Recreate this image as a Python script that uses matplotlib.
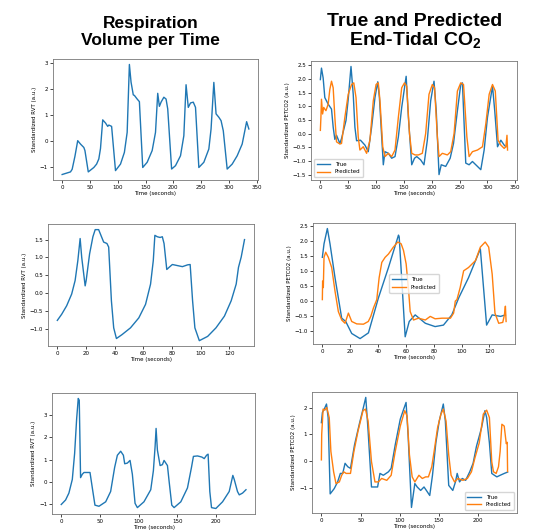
import matplotlib
matplotlib.use('Agg')
import matplotlib.pyplot as plt

plt.rcParams['mathtext.fontset'] = 'custom'
plt.rcParams['mathtext.rm'] = 'Liberation Sans:bold'
plt.rcParams['mathtext.bf'] = 'Liberation Sans:bold'

# respiration volume per time, 3 subjects
rvt1_t = [0, 15, 18, 23, 28, 33, 39, 41, 47, 57, 62, 66, 69, 73, 78, 82, 84, 89, 96, 105, 112, 117, 121, 124, 128, 130,
          135, 139, 145, 153, 162, 168, 172, 175, 178, 183, 187, 190, 197, 204, 213, 219, 223, 227, 231, 236, 240, 246,
          255, 264, 268, 273, 277, 282, 286, 290, 297, 306, 315, 324, 332, 336]
rvt1_v = [-1.3, -1.2, -1.1, -0.6, 0.0, -0.13, -0.26, -0.38, -1.2, -1.03, -0.9, -0.7, -0.3, 0.8, 0.68, 0.55, 0.6, 0.55,
          -1.15, -0.9, -0.45, 0.32, 2.93, 2.25, 1.76, 1.74, 1.6, 1.5, -1.03, -0.83, -0.38, 0.32, 1.82, 1.32, 1.48, 1.67,
          1.6, 1.22, -1.09, -0.96, -0.58, 0.19, 2.15, 1.28, 1.45, 1.48, 1.28, -1.03, -0.83, -0.32, 0.45, 2.24, 1.03,
          0.9, 0.77, 0.38, -1.09, -0.9, -0.58, -0.13, 0.73, 0.45]

rvt2_t = [0, 3, 6.5, 10, 12.4, 14.3, 15.9, 17, 19.4, 20.1, 22.5, 24.8, 26.4, 28.8, 30.4, 32.3, 34.6, 35.8, 37.7, 39.3,
          41.2, 45.1, 51, 56.8, 61.5, 65, 66.9, 68, 69.7, 71.6, 73.2, 74.4, 76.3, 77.9, 80.2, 83.7, 87.2, 90.8, 92.6,
          94.3, 95.9, 99, 104.8, 110.6, 116.5, 121.2, 124.7, 126.3, 128.2, 130.5]
rvt2_v = [-0.77, -0.6, -0.36, -0.03, 0.35, 0.91, 1.53, 1.0, 0.2, 0.35, 1.1, 1.58, 1.78, 1.78, 1.62, 1.43, 1.39, 1.29,
          -0.22, -0.98, -1.28, -1.17, -0.98, -0.7, -0.32, 0.25, 0.91, 1.62, 1.58, 1.56, 1.58, 1.39, 0.66, 0.72, 0.8,
          0.77, 0.74, 0.79, 0.8, -0.22, -0.98, -1.34, -1.22, -0.98, -0.65, -0.22, 0.25, 0.72, 1.01, 1.5]

rvt3_t = [0, 5.6, 9.9, 14.3, 17.3, 19.9, 22, 23.3, 25, 27.2, 29.4, 33.7, 37.2, 40.2, 43.6, 48.8, 57.5, 63.9, 69.1, 72.6,
          76.9, 80.4, 82.1, 85.5, 89, 92, 95.5, 98.5, 107, 115.8, 119.2, 121.4, 122.7, 124.4, 127.9, 130.9, 133, 137.4,
          139.5, 143, 146, 154.7, 163.3, 168.5, 171, 176.3, 181.9, 185, 188, 190, 192.2, 194.4, 200, 208.7, 217.3, 222,
          223.8, 228, 230.3, 234.6, 239]
rvt3_v = [-1.0, -0.8, -0.49, 0.12, 1.28, 2.82, 3.74, 3.66, 0.2, 0.35, 0.43, 0.43, 0.43, -0.26, -1.03, -1.08, -0.88,
          -0.42, 0.66, 1.2, 1.38, 1.2, 0.82, 0.85, 0.97, 0.35, -0.95, -1.14, -0.88, -0.34, 0.51, 1.58, 2.4, 1.43, 0.74,
          0.78, 0.97, 0.74, 0.05, -1.03, -1.14, -0.88, -0.26, 0.66, 1.15, 1.17, 1.12, 1.05, 1.2, 1.25, -0.42, -1.14,
          -1.18, -0.88, -0.42, 0.3, 0.12, -0.42, -0.57, -0.49, -0.34]

# end-tidal CO2, true vs predicted
true1_t = [0, 2, 5, 8, 14, 20, 23, 26, 29, 35, 38, 46, 50, 55, 59, 62, 65, 72, 80, 86, 92, 98, 103, 106, 113, 116, 122,
           128, 134, 140, 146, 154, 158, 164, 169, 173, 180, 186, 192, 198, 204, 208, 213, 217, 225, 233, 239, 246, 252,
           255, 261, 267, 273, 282, 288, 294, 300, 309, 313, 318, 324, 330, 333]
true1_v = [1.98, 2.4, 2.04, 1.32, 1.08, 0.9, 0.24, -0.21, -0.06, -0.36, -0.18, 0.48, 1.26, 2.46, 1.44, 0.24, -0.26,
           -0.24, -0.42, -0.66, 0.24, 1.32, 1.9, 1.32, -1.14, -0.66, -0.72, -0.9, -0.84, -0.12, 0.96, 2.1, 0.6, -1.14,
           -0.9, -0.84, -0.96, -1.14, -0.24, 1.2, 1.92, 0.84, -1.5, -1.14, -1.2, -0.9, -0.36, 0.84, 1.8, 1.86, -1.08,
           -1.14, -1.02, -1.2, -1.32, -0.6, 0.6, 1.74, 0.84, -0.48, -0.24, -0.42, -0.48]
pred1_t = [0, 1, 2, 4, 6, 10, 14, 17, 20, 23, 26, 29, 35, 38, 44, 50, 56, 60, 64, 68, 71, 77, 83, 89, 95, 100, 104, 107,
           112, 116, 122, 128, 134, 140, 146, 151, 155, 160, 164, 170, 176, 183, 189, 195, 201, 205, 210, 213, 219, 228,
           234, 240, 246, 252, 257, 263, 267, 273, 282, 291, 297, 303, 309, 314, 319, 324, 330, 333, 335, 336]
pred1_v = [0.12, 0.6, 1.26, 0.72, 0.96, 0.84, 1.08, 1.62, 1.92, 1.68, 0.6, -0.3, -0.38, -0.36, 0.6, 1.44, 1.8, 1.86,
           1.32, -0.12, -0.6, -0.48, -0.72, -0.24, 1.2, 1.8, 1.86, 1.2, -0.48, -0.84, -0.72, -0.84, -0.6, 0.6, 1.68,
           1.86, 1.74, 0.0, -0.72, -0.78, -0.78, -0.72, 0.0, 1.44, 1.8, 1.68, -0.12, -0.84, -0.72, -0.78, -0.66, 0.0,
           1.56, 1.86, 1.8, -0.12, -0.84, -0.66, -0.6, -0.48, 0.36, 1.44, 1.8, 1.56, -0.24, -0.42, -0.54, -0.48, -0.06,
           -0.6]

true2_t = [0, 1.2, 3.6, 5.5, 9.1, 13.9, 16.8, 21.1, 27.1, 33.1, 40.3, 47.5, 54.7, 55.2, 59.5, 62.4, 66.7, 74, 81, 87,
           93, 98, 105, 113.5, 118, 122, 128, 131.5]
true2_v = [1.46, 1.91, 2.42, 1.91, 0.78, -0.57, -0.68, -1.08, -1.25, -1.06, 0.11, 1.12, 2.2, 2.14, -1.19, -0.68, -0.46,
           -0.74, -0.85, -0.8, -0.46, 0.11, 0.78, 1.74, -0.8, -0.46, -0.51, -0.46]
pred2_t = [0, 0.2, 0.7, 1.2, 2.4, 4.3, 6.7, 9.1, 11.5, 13.9, 16.3, 18.7, 21.1, 24.7, 29.5, 33, 34.8, 36.7, 39.1, 40.8,
           42.7, 45.1, 47.5, 51, 54.2, 56.6, 58.3, 60.2, 62, 63.1, 65.5, 69, 74, 77.5, 81, 86, 92, 94.3, 95.5, 96.7, 99,
           101.5, 105, 110, 113.5, 117, 119.5, 122, 124, 126.7, 129.6, 130.8, 131.5, 132]
pred2_v = [0.05, 0.67, 0.45, 1.46, 1.63, 1.46, 1.12, 0.33, -0.35, -0.63, -0.74, -0.4, -0.68, -0.76, -0.77, -0.68,
           -0.51, -0.23, 0.05, 0.78, 1.29, 1.46, 1.57, 1.8, 1.97, 1.91, 1.69, 1.24, 0.33, -0.35, -0.63, -0.57, -0.63,
           -0.51, -0.59, -0.57, -0.57, -0.4, 0.0, 0.05, 0.45, 1.01, 1.12, 1.35, 1.8, 1.97, 1.8, 0.9, -0.4, -0.74, -0.71,
           -0.46, -0.17, -0.68]

true3_t = [0, 1.3, 4.3, 6.5, 8.6, 11.2, 16.4, 20.7, 24.2, 27.2, 30.2, 33.7, 37.1, 42.3, 48.8, 53.1, 56.6, 59.6, 63.9,
           68.3, 71.7, 74.7, 79, 85.5, 89, 94.2, 100.6, 105, 108, 110.6, 114.9, 119.2, 122.2, 126.6, 130.9, 133.9, 138.2,
           141.7, 146, 150.3, 155.5, 158.1, 162.4, 167.6, 171, 173.2, 176.2, 179.7, 184, 189.2, 193.5, 197.8, 204.3,
           208.6, 210.8, 214.3, 217.3, 220.7, 223.8, 228, 233.3, 237.5]
true3_v = [1.44, 1.82, 1.99, 2.14, 1.63, -1.24, -1.04, -0.79, -0.47, -0.47, -0.09, -0.22, -0.28, 0.61, 1.44, 1.95, 2.39,
           1.12, -0.98, -0.98, -0.98, -0.47, -0.54, -0.41, -0.28, 0.61, 1.57, 1.95, 2.2, 0.97, -1.75, -0.85, -0.98,
           -1.11, -0.98, -1.11, -1.3, -0.54, 0.68, 1.5, 2.14, 1.5, -0.92, -1.11, -0.79, -0.47, -0.79, -0.66, -0.73,
           -0.41, -0.09, 0.55, 1.25, 1.89, 1.63, 0.68, -0.47, -0.54, -0.6, -0.54, -0.47, -0.42]
pred3_t = [0, 0.4, 2.2, 4.3, 6.9, 10, 12.1, 15.6, 18.6, 22.9, 25.9, 28.5, 31.5, 37.1, 41.5, 46.7, 53.1, 56.2, 59.6,
           63.9, 68.3, 72.6, 76.9, 83.4, 89, 94.2, 100.6, 106.3, 109.3, 112.3, 115.8, 119.2, 124.4, 128.7, 133, 136.5,
           140.8, 143.8, 148.2, 152.5, 155.5, 159, 162.4, 165.4, 169.8, 174.1, 180.6, 186.2, 191.4, 195.7, 201.3, 206.5,
           210.8, 214.3, 217.3, 219.5, 222.9, 225.9, 228, 230.2, 233.2, 235.8, 237, 237.5]
pred3_v = [0.04, 1.0, 1.95, 1.91, 2.01, 1.63, 0.36, -0.41, -0.85, -0.79, -0.54, -0.41, -0.47, -0.47, 0.36, 1.12, 1.89,
           1.95, 1.5, -0.03, -0.79, -0.79, -0.66, -0.73, -0.54, 0.36, 1.31, 1.89, 1.69, 0.23, -0.6, -0.79, -0.54, -0.66,
           -0.6, -0.6, -0.22, 0.36, 1.25, 1.76, 1.95, 1.5, 0.23, -0.54, -0.79, -0.66, -0.73, -0.66, -0.41, 0.1, 0.68,
           1.76, 1.91, 1.63, -0.03, -0.41, -0.47, -0.22, 0.36, 1.38, 1.31, 0.65, 0.7, -0.4]

rvt_sets = [(rvt1_t, rvt1_v), (rvt2_t, rvt2_v), (rvt3_t, rvt3_v)]
co2_sets = [(true1_t, true1_v, pred1_t, pred1_v),
            (true2_t, true2_v, pred2_t, pred2_v),
            (true3_t, true3_v, pred3_t, pred3_v)]

left_pos = [[0.098, 0.661, 0.381, 0.228], [0.089, 0.348, 0.382, 0.230], [0.0965, 0.032, 0.377, 0.228]]
right_pos = [[0.577, 0.661, 0.382, 0.224], [0.581, 0.352, 0.375, 0.228], [0.579, 0.034, 0.380, 0.228]]
legend_loc = ['lower left', 'center', 'lower right']

fs = 4
fig = plt.figure(figsize=(5.39, 5.31), dpi=100)

for i in range(3):
    ax = fig.add_axes(left_pos[i])
    ax.plot(rvt_sets[i][0], rvt_sets[i][1], color='#1f77b4', lw=1.0)
    ax.set_xlabel('Time (seconds)', fontsize=fs, labelpad=1)
    ax.set_ylabel('Standardized RVT (a.u.)', fontsize=fs, labelpad=2)
    ax.tick_params(labelsize=fs, length=2, width=0.5, pad=1.5)
    for s in ax.spines.values():
        s.set_linewidth(0.6)
        s.set_color('#777777')

    tt, tv, pt, pv = co2_sets[i]
    ax2 = fig.add_axes(right_pos[i])
    ax2.plot(tt, tv, color='#1f77b4', lw=1.0, label='True')
    ax2.plot(pt, pv, color='#ff7f0e', lw=1.0, label='Predicted')
    ax2.set_xlabel('Time (seconds)', fontsize=fs, labelpad=1)
    ax2.set_ylabel('Standardized PETCO2 (a.u.)', fontsize=fs, labelpad=2)
    ax2.tick_params(labelsize=fs, length=2, width=0.5, pad=1.5)
    for s in ax2.spines.values():
        s.set_linewidth(0.6)
        s.set_color('#777777')
    ax2.legend(loc=legend_loc[i], fontsize=fs, handlelength=2.5, borderpad=0.5)

ax.set_xticks([0, 50, 100, 150, 200])
ax2.set_xticks([0, 50, 100, 150, 200])

fig.text(0.280, 0.940, 'Respiration\nVolume per Time', ha='center', va='center', fontsize=12.5,
         fontweight='bold', family='Liberation Sans', linespacing=1.15)
fig.text(0.770, 0.940, 'True and Predicted\nEnd-Tidal CO$_{\\mathbf{2}}$', ha='center', va='center', fontsize=14,
         fontweight='bold', family='Liberation Sans', linespacing=1.05)

fig.savefig('out.png', dpi=100)
